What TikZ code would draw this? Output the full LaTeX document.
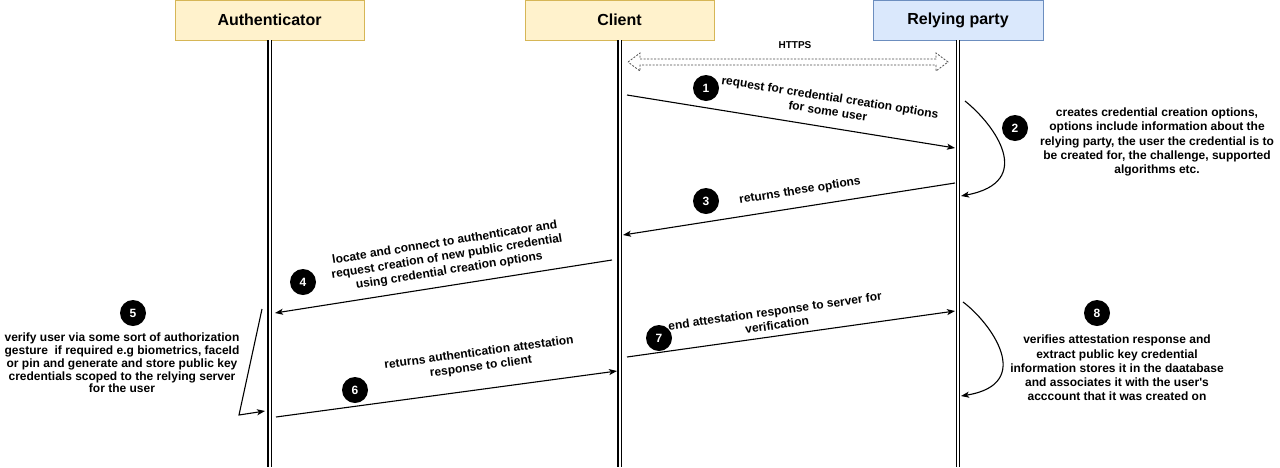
\documentclass[tikz,border=0pt]{standalone}
\usepackage{fontspec}
\setmainfont{Liberation Sans}
\usetikzlibrary{positioning,calc,arrows,arrows.meta}

\definecolor{hdrfill}{HTML}{FFF2CC}
\definecolor{hdrline}{HTML}{D6B656}
\definecolor{rpfill}{HTML}{DAE8FC}
\definecolor{rpline}{HTML}{6C8EBF}

\begin{document}
\begin{tikzpicture}[x=1pt, y=-1pt]
	\tikzstyle{every node}=[align=center, inner sep=1pt, font=\bfseries\fontsize{12}{14.2}\selectfont]
	\tikzstyle{hdr}=[draw=hdrline, fill=hdrfill, line width=0.8pt, minimum height=40pt, inner sep=0pt, font=\bfseries\fontsize{16}{18}\selectfont]
	\tikzstyle{num}=[circle, fill=black, text=white, minimum size=26pt, inner sep=0pt, font=\bfseries\fontsize{12}{14}\selectfont]
	\tikzstyle{life}=[double, double distance=2pt, line width=1.3pt]
	\tikzstyle{msg}=[-{Stealth[length=8pt, width=6pt, inset=2pt]}, line width=1.1pt]

	\useasboundingbox (0,0) rectangle (1280,467);

	% lifeline heads
	\node[hdr, minimum width=189pt] (auth) at (269.5,20) {Authenticator};
	\node[hdr, minimum width=189pt] (cli)  at (619.5,20) {Client};
	\node[hdr, draw=rpline, fill=rpfill, minimum width=170pt] (rp) at (958,20) {Relying party};

	\coordinate (authe) at (269.5,467);
	\coordinate (clie)  at (619.5,467);
	\coordinate (rpe)   at (958,467);

	\draw [life] (auth.south) -- (authe);
	\draw [life] (cli.south) -- (clie);
	\draw [life] (rp.south) -- (rpe);

	% https
	\node (https) at (795,45) {\fontsize{10}{12}\selectfont HTTPS};
	\coordinate (hl) at (628,62);
	\coordinate (hr) at (948,62);
	\draw [black!70, line width=0.8pt, dash pattern=on 2pt off 1.5pt]
		(hl) -- ($(hl)+(12,-9)$) -- ($(hl)+(12,-3)$) -- ($(hr)+(-12,-3)$) -- ($(hr)+(-12,-9)$)
		-- (hr) -- ($(hr)+(-12,9)$) -- ($(hr)+(-12,3)$) -- ($(hl)+(12,3)$) -- ($(hl)+(12,9)$) -- cycle;

	% messages
	\coordinate (m1a) at (627,95);
	\coordinate (m1b) at (955,148);
	\coordinate (m2a) at (965,101);
	\coordinate (m2b) at (961,196);
	\coordinate (m3a) at (955,183);
	\coordinate (m3b) at (623,235);
	\coordinate (m4a) at (612,260);
	\coordinate (m4b) at (275,313);
	\coordinate (m5a) at (262,309);
	\coordinate (m5k) at (239,415);
	\coordinate (m5b) at (265,411);
	\coordinate (m6a) at (276,417);
	\coordinate (m6b) at (617,371);
	\coordinate (m7a) at (627,357);
	\coordinate (m7b) at (955,311);
	\coordinate (m8a) at (963,302);
	\coordinate (m8b) at (961,396);

	\draw [msg] (m1a) -- (m1b);
	\draw [msg] (m2a) .. controls (995,125) and (1036,182) .. (m2b);
	\draw [msg] (m3a) -- (m3b);
	\draw [msg] (m4a) -- (m4b);
	\draw [msg] (m5a) -- (m5k) -- (m5b);
	\draw [msg] (m6a) -- (m6b);
	\draw [msg] (m7a) -- (m7b);
	\draw [msg] (m8a) .. controls (990,322) and (1036,384) .. (m8b);

	% step numbers
	\node[num] (n1) at (706,88)   {1};
	\node[num] (n2) at (1015,128) {2};
	\node[num] (n3) at (706,201)  {3};
	\node[num] (n4) at (303,282)  {4};
	\node[num] (n5) at (133,313)  {5};
	\node[num] (n6) at (355,390)  {6};
	\node[num] (n7) at (659,338)  {7};
	\node[num] (n8) at (1097,313) {8};

	% labels
	\node[rotate=-9] (l1) at (829,104) {request for credential creation options\\for some user};
	\node (l2) at (1157,142) {creates credential creation options,\\options include information about the\\relying party, the user the credential is to\\be created for, the challenge, supported\\algorithms etc.};
	\node[rotate=9] (l3) at (800,191) {returns these options};
	\node[rotate=9] (l4) at (447,257) {locate and connect to authenticator and\\request creation of new public credential\\using credential creation options};
	\node[font=\bfseries\fontsize{12}{12.8}\selectfont] (l5) at (122,363) {verify user via some sort of authorization\\gesture \ if required e.g biometrics, faceId\\or pin and generate and store public key\\credentials scoped to the relying server\\for the user};
	\node[rotate=7.6] (l6) at (480,360) {returns authentication attestation\\response to client};
	\node[rotate=8] (l7) at (776,318) {end attestation response to server for\\verification};
	\node (l8) at (1117,368) {verifies attestation response and\\extract public key credential\\information stores it in the daatabase\\and associates it with the user\textquotesingle s\\acccount that it was created on};
\end{tikzpicture}
\end{document}
